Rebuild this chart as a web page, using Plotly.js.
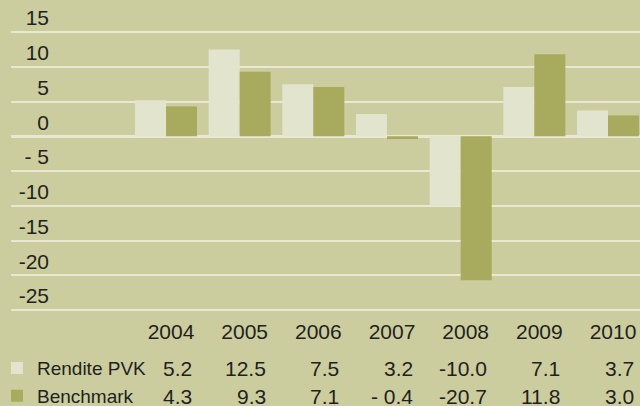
<!DOCTYPE html>
<html>
<head>
<meta charset="utf-8">
<script src="https://cdn.plot.ly/plotly-3.0.1.min.js"></script>
<style>html,body{margin:0;padding:0;background:#cbcd9f;}#chart{width:640px;height:406px;}</style>
</head>
<body>
<div id="chart"></div>
<script>
const years = ['2004','2005','2006','2007','2008','2009','2010'];
const renditePVK = [5.2, 12.5, 7.5, 3.2, -10.0, 7.1, 3.7];
const benchmark = [4.3, 9.3, 7.1, -0.4, -20.7, 11.8, 3.0];
const seriesNames = ['Rendite PVK', 'Benchmark'];
const yTickVals = [15, 10, 5, 0, -5, -10, -15, -20, -25];
const yTickText = ['15', '10', '5', '0', '- 5', '-10', '-15', '-20', '-25'];

const BG = '#cbcd9f', C1 = '#e3e4cd', C2 = '#a8ab5d', GRID = '#e9e8d3', TXT = '#231f20';
const FONT = 'Liberation Sans, Arial, sans-serif';

function fmt(v) {
  if (v < 0 && v > -10) return '- ' + Math.abs(v).toFixed(1);
  return v.toFixed(1);
}

const plotBottom = 318, marginTop = 10, H = 406;
const rowsY = [368, 396];
const annotations = [];
[renditePVK, benchmark].forEach((arr, r) => {
  arr.forEach((v, i) => {
    annotations.push({
      x: i, xref: 'x', xanchor: 'right', xshift: 28,
      y: 0, yref: 'paper', yanchor: 'middle', yshift: -(rowsY[r] - plotBottom),
      text: fmt(v), showarrow: false,
      font: {family: FONT, size: 21, color: TXT}
    });
  });
});

const data = [
  {type: 'bar', x: years, y: renditePVK, name: seriesNames[0], marker: {color: C1}},
  {type: 'bar', x: years, y: benchmark, name: seriesNames[1], marker: {color: C2}}
];

const layout = {
  width: 640, height: 406,
  paper_bgcolor: BG, plot_bgcolor: BG,
  margin: {l: 11, r: 0, t: marginTop, b: H - plotBottom, autoexpand: false},
  barmode: 'group', bargap: 0.158, bargroupgap: 0,
  font: {family: FONT, size: 21, color: TXT},
  xaxis: {
    type: 'category', range: [-2.104, 6.434], showgrid: false, zeroline: false,
    showline: false, ticks: '', ticklabelshift: 5, ticklabelstandoff: -1,
    tickfont: {family: FONT, size: 21, color: TXT}, fixedrange: true, automargin: false
  },
  yaxis: {
    range: [-26.15, 18.17], tickmode: 'array', tickvals: yTickVals, ticktext: yTickText,
    showgrid: true, gridcolor: GRID, gridwidth: 2,
    zeroline: true, zerolinecolor: GRID, zerolinewidth: 2.5,
    showline: false, ticks: '', ticklabelshift: -14, ticklabelstandoff: -39,
    tickfont: {family: FONT, size: 21, color: TXT}, fixedrange: true, automargin: false
  },
  showlegend: true,
  legend: {
    orientation: 'v', xref: 'paper', yref: 'container',
    x: -0.0223, xanchor: 'left', y: 0.14, yanchor: 'top',
    bgcolor: 'rgba(0,0,0,0)', font: {family: FONT, size: 19, color: TXT},
    tracegroupgap: 0
  },
  annotations: annotations
};

Plotly.newPlot('chart', data, layout, {staticPlot: true, displayModeBar: false});
</script>
</body>
</html>
